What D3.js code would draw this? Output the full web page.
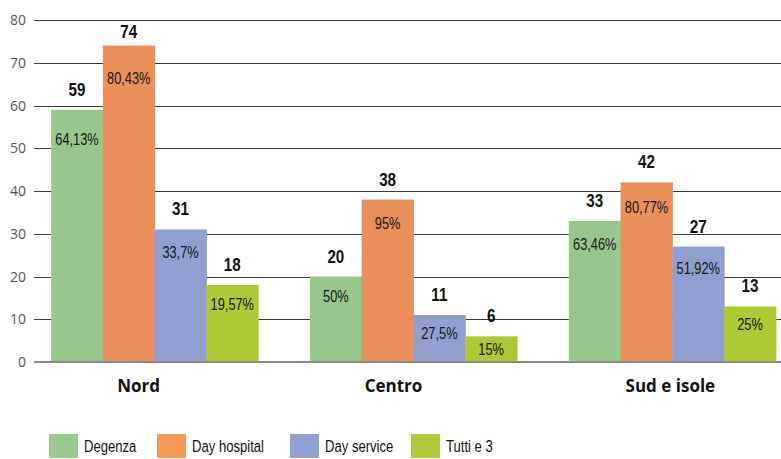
<!DOCTYPE html>
<html>
<head>
<meta charset="utf-8">
<script src="https://cdn.jsdelivr.net/npm/d3@7"></script>
<style>
  html, body { margin: 0; padding: 0; background: #fff; }
  svg { display: block; }
  .tick-label { font-family: "Open Sans", "Noto Sans", sans-serif; font-size: 14px; fill: #555; }
  .cat-label { font-family: "Open Sans", "Noto Sans", sans-serif; font-size: 17px; font-weight: bold; fill: #111; }
  /* no condensed face installed: Liberation Sans with a horizontal squeeze */
  .value-label { font-family: "Liberation Sans", Arial, sans-serif; font-size: 19px; font-weight: bold; fill: #111; }
  .pct-label { font-family: "Liberation Sans", Arial, sans-serif; font-size: 16px; fill: #161616; }
  .legend-label { font-family: "Liberation Sans", Arial, sans-serif; font-size: 17px; fill: #111; }
</style>
</head>
<body>
<div id="chart"></div>
<script>
// Data
const regions = ["Nord", "Centro", "Sud e isole"];
const series = ["Degenza", "Day hospital", "Day service", "Tutti e 3"];
const colors = ["#98c78b", "#e98f5b", "#909fcf", "#aec936"];
const legendColors = ["#99c98c", "#f39a59", "#919fcf", "#b0c93a"];

// counts per region, one array per series
const degenza = [59, 20, 33];
const dayHospital = [74, 38, 42];
const dayService = [31, 11, 27];
const tutti = [18, 6, 13];

const degenzaPct = ["64,13%", "50%", "63,46%"];
const dayHospitalPct = ["80,43%", "95%", "80,77%"];
const dayServicePct = ["33,7%", "27,5%", "51,92%"];
const tuttiPct = ["19,57%", "15%", "25%"];

const yTicks = [0, 10, 20, 30, 40, 50, 60, 70, 80];

const values = [degenza, dayHospital, dayService, tutti];
const pcts = [degenzaPct, dayHospitalPct, dayServicePct, tuttiPct];

const width = 781;
const height = 459;
const margin = { top: 20, left: 34, bottom: 97 };
const gridRight = 781;
const squeeze = 0.8;

const svg = d3.select("#chart").append("svg")
  .attr("width", width)
  .attr("height", height);

const y = d3.scaleLinear().domain([0, 80]).range([height - margin.bottom, margin.top]);

// groups run a bit past the right edge, as in the original
const x0 = d3.scaleBand()
  .domain(regions)
  .range([margin.left, 793])
  .paddingInner(0.2)
  .paddingOuter(0.066);

const x1 = d3.scaleBand()
  .domain(series)
  .range([0, x0.bandwidth()]);

// gridlines + tick labels
const grid = svg.append("g");
grid.selectAll("line")
  .data(yTicks.filter((t) => t !== 0))
  .join("line")
  .attr("x1", margin.left)
  .attr("x2", gridRight)
  .attr("y1", (d) => Math.round(y(d)) + 0.5)
  .attr("y2", (d) => Math.round(y(d)) + 0.5)
  .attr("stroke", "#3a3a3a")
  .attr("stroke-width", 1);

grid.selectAll("text")
  .data(yTicks)
  .join("text")
  .attr("class", "tick-label")
  .attr("x", 26)
  .attr("y", (d) => y(d) + 5)
  .attr("text-anchor", "end")
  .text((d) => d);

// rows of bars
const rows = [];
regions.forEach((region, ri) => {
  series.forEach((s, si) => {
    rows.push({ region, series: s, si, value: values[si][ri], pct: pcts[si][ri] });
  });
});

const barCenter = (d) => x0(d.region) + x1(d.series) + x1.bandwidth() / 2;

const bars = svg.append("g")
  .selectAll("g")
  .data(rows)
  .join("g");

bars.append("rect")
  .attr("x", (d) => x0(d.region) + x1(d.series))
  .attr("y", (d) => y(d.value))
  .attr("width", x1.bandwidth() + 0.5)
  .attr("height", (d) => y(0) - y(d.value))
  .attr("fill", (d) => colors[d.si]);

bars.append("text")
  .attr("class", "value-label")
  .attr("text-anchor", "middle")
  .attr("transform", (d) => `translate(${barCenter(d)},${Math.max(y(d.value) - 14, 38)}) scale(${squeeze},1)`)
  .text((d) => d.value);

bars.append("text")
  .attr("class", "pct-label")
  .attr("text-anchor", "middle")
  .attr("transform", (d) => {
    const h = y(0) - y(d.value);
    const ty = y(d.value) + Math.min(21 + 0.055 * h, h / 2 + 6);
    return `translate(${barCenter(d)},${ty}) scale(${squeeze},1)`;
  })
  .text((d) => d.pct);

// baseline
svg.append("line")
  .attr("x1", margin.left)
  .attr("x2", gridRight)
  .attr("y1", y(0))
  .attr("y2", y(0))
  .attr("stroke", "#8a8a8a")
  .attr("stroke-width", 2);

// category labels (slightly off-centre in the original)
const catShift = [-16, -20, -2];
svg.append("g")
  .selectAll("text")
  .data(regions)
  .join("text")
  .attr("class", "cat-label")
  .attr("text-anchor", "middle")
  .attr("x", (d, i) => x0(d) + x0.bandwidth() / 2 + catShift[i])
  .attr("y", 392)
  .text((d) => d);

// legend
const legendX = [49, 157, 290, 411];
const legend = svg.append("g")
  .selectAll("g")
  .data(series)
  .join("g")
  .attr("transform", (d, i) => `translate(${legendX[i]}, 434)`);

legend.append("rect")
  .attr("width", 29)
  .attr("height", 24)
  .attr("fill", (d, i) => legendColors[i]);

legend.append("text")
  .attr("class", "legend-label")
  .attr("transform", "translate(35,18) scale(0.77,1)")
  .text((d) => d);
</script>
</body>
</html>
